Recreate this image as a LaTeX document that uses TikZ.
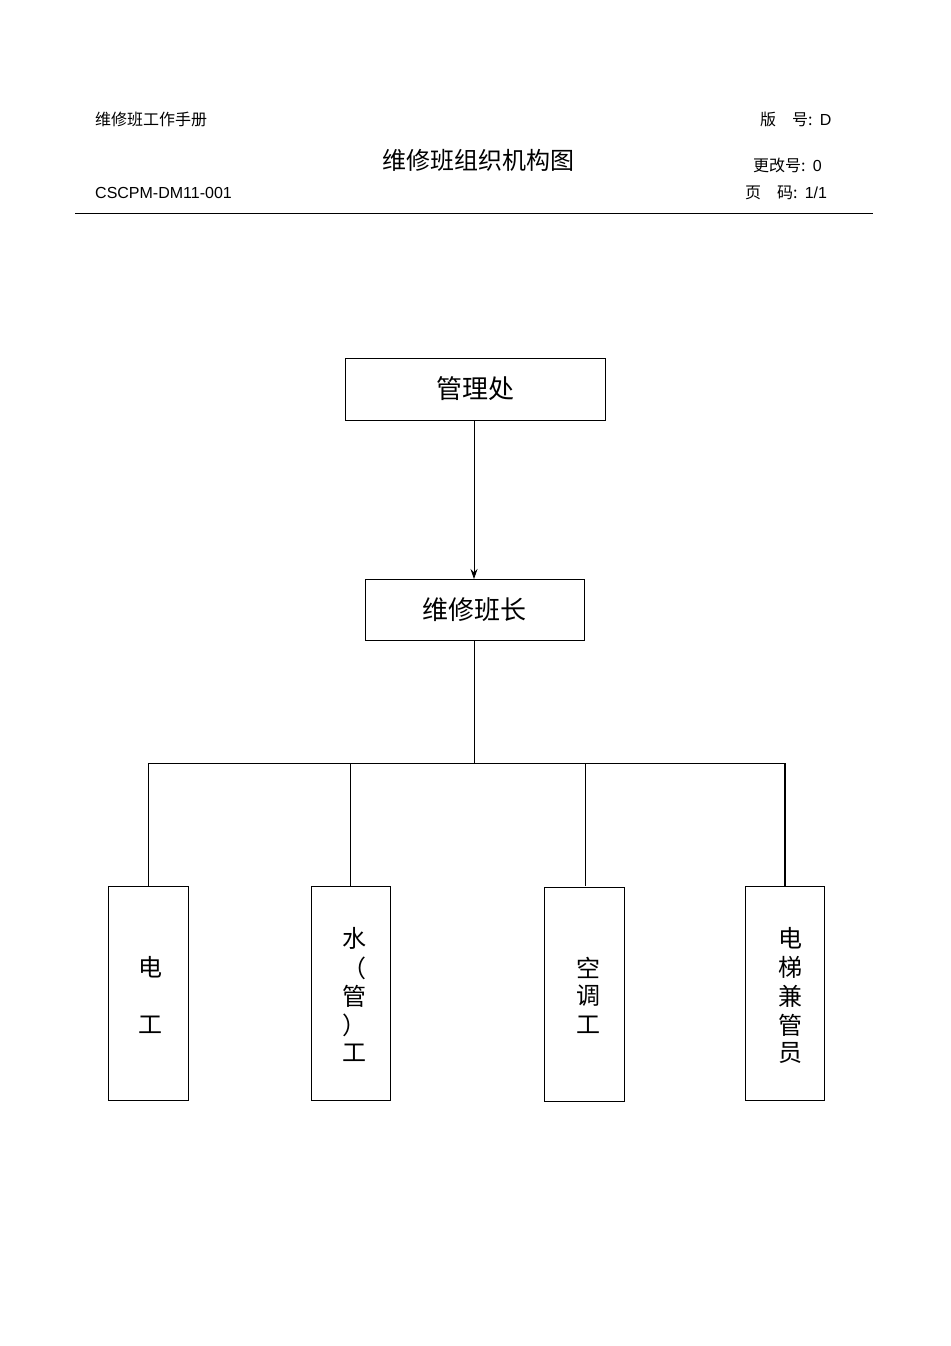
\documentclass[tikz,border=0pt]{standalone}
\usepackage{fontspec}
\setmainfont{Liberation Sans}
\newfontfamily\cjk{Noto Sans CJK SC}
\usetikzlibrary{arrows.meta}
\begin{document}
\begin{tikzpicture}[x=1pt,y=-1pt,
  box/.style={draw,thick,inner sep=0},
  txt/.style={font=\cjk\fontsize{24}{24}\selectfont,inner sep=0},
  hdr/.style={font=\cjk\fontsize{16}{16}\selectfont,inner sep=0},
  ln/.style={line width=0.9pt}]
\useasboundingbox (0,0) rectangle (950,1346);
\node[hdr,anchor=west] (h1) at (95,119) {维修班工作手册};
\node[hdr,anchor=west] (h2) at (760,119) {版\quad 号:\ \ \fontspec{Liberation Sans}D};
\node[font=\cjk\fontsize{24}{24}\selectfont,inner sep=0] (title) at (478,160) {维修班组织机构图};
\node[hdr,anchor=west] (h3) at (753,165) {更改号:\ \ \fontspec{Liberation Sans}0};
\node[font=\fontsize{16}{16}\selectfont,anchor=west,inner sep=0] (h4) at (95,193) {CSCPM-DM11-001};
\node[hdr,anchor=west] (h5) at (745,193) {页\quad 码:\ \ \fontspec{Liberation Sans}1/1};
\coordinate (l1) at (75,213); \coordinate (l2) at (873,213);
\draw[ln] (l1) -- (l2);

\draw[box] (345,358) rectangle (605,420);
\node[txt,font=\cjk\fontsize{26}{26}\selectfont] (a) at (475,389) {管理处};
\draw[box] (365,579) rectangle (584,640);
\node[txt,font=\cjk\fontsize{26}{26}\selectfont] (b) at (474,610) {维修班长};
\coordinate (at) at (474,420); \coordinate (ab) at (474,579);
\draw[ln,-{Stealth[length=10pt,width=7pt]}] (at) -- (ab);
\coordinate (bt) at (474,640); \coordinate (bb) at (474,763);
\draw[ln] (bt) -- (bb);
\coordinate (hl) at (148,763); \coordinate (hr) at (786,763);
\draw[ln] (hl) -- (hr);
\foreach \x/\w in {148/0.9pt,350/0.9pt,585/0.9pt,785/1.6pt}{
  \draw[line width=\w] (\x,763) -- (\x,886);
}
\draw[box] (108,886) rectangle (188,1100);
\draw[box] (311,886) rectangle (390,1100);
\draw[box] (544,887) rectangle (624,1101);
\draw[box] (745,886) rectangle (824,1100);
\node[txt] (c1) at (150,967) {电};
\node[txt] (c2) at (150,1025) {工};
\foreach \t/\y [count=\i] in {水/938,（/968,管/996,）/1025,工/1053}
  \node[txt] (d\i) at (354,\y) {\t};
\foreach \t/\y [count=\i] in {空/968,调/996,工/1025}
  \node[txt] (e\i) at (588,\y) {\t};
\foreach \t/\y [count=\i] in {电/938,梯/967,兼/996,管/1025,员/1053}
  \node[txt] (f\i) at (790,\y) {\t};
\end{tikzpicture}
\end{document}
